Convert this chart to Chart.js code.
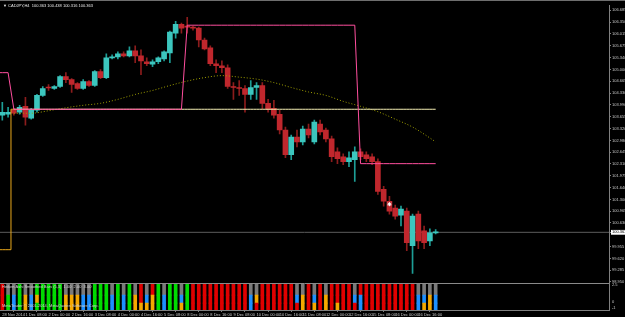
<!DOCTYPE html>
<html>
<head>
<meta charset="utf-8">
<script src="https://cdn.jsdelivr.net/npm/chart.js@4.4.1/dist/chart.umd.min.js"></script>
<style>
  html, body { margin: 0; padding: 0; background: #000; overflow: hidden; }
  #wrap { position: relative; width: 625px; height: 317px; }
  #topline { position: absolute; left: 0; top: 0; width: 625px; height: 1px; background: #6e6e6e; }
</style>
</head>
<body>
<div id="wrap">
  <canvas id="chart" width="625" height="317"></canvas>
  <div id="topline"></div>
</div>
<script>
// CADJPY H4 - الشموع
const opens  = [103.699,103.727,103.840,103.783,103.952,103.614,103.840,104.262,104.488,104.459,
                104.516,104.797,104.713,104.600,104.459,104.657,104.544,104.938,104.769,105.333,
                105.361,105.445,105.389,105.530,105.389,105.220,105.150,105.220,105.305,105.474,
                106.037,106.290,106.234,106.206,106.178,105.840,105.614,105.164,105.107,105.051,
                104.516,104.488,104.459,104.290,104.488,104.544,104.037,103.896,103.727,103.276,
                102.572,103.079,102.938,103.305,102.938,103.445,103.276,103.023,102.657,102.516,
                102.375,102.431,102.657,102.572,102.516,102.375,101.586,101.248,101.051,100.854,
                100.967,99.981,100.882,100.403,100.121,100.347];
const highs  = [104.065,103.924,103.896,103.981,104.206,103.896,104.290,104.516,104.572,104.544,
                104.826,104.910,104.741,104.628,104.713,104.685,104.967,104.995,105.445,105.417,
                105.502,105.502,105.643,105.671,105.558,105.333,105.276,105.361,105.530,106.093,
                106.375,106.319,106.488,106.234,106.206,105.896,105.671,105.276,105.248,105.136,
                104.628,104.685,104.544,104.685,104.628,104.628,104.150,104.121,103.840,103.361,
                103.136,103.276,103.389,103.445,103.558,103.558,103.333,103.107,102.769,102.600,
                102.657,102.797,102.741,102.657,102.600,102.459,101.671,101.389,101.136,101.107,
                101.051,100.882,100.967,100.544,100.459,100.438];
const lows   = [103.558,103.643,103.699,103.727,103.417,103.586,103.783,104.234,104.403,104.431,
                104.488,104.628,104.347,104.431,104.431,104.516,104.516,104.741,104.741,105.305,
                105.305,105.361,105.361,105.192,104.854,105.107,105.079,105.164,105.248,105.192,
                105.896,106.037,106.037,106.121,105.643,105.558,105.107,104.910,104.910,104.459,
                104.150,104.262,103.783,104.150,104.150,103.868,103.783,103.614,103.164,102.488,
                102.431,102.797,102.854,103.051,102.882,103.136,102.938,102.375,102.319,102.290,
                102.234,101.812,102.431,102.375,102.290,101.445,101.107,100.882,100.741,100.544,
                99.840,99.192,99.896,99.896,99.981,100.316];
const closes = [103.783,103.783,103.755,103.924,103.643,103.840,104.262,104.459,104.473,104.516,
                104.797,104.713,104.572,104.459,104.657,104.544,104.938,104.769,105.333,105.361,
                105.445,105.389,105.530,105.389,105.248,105.164,105.220,105.333,105.502,106.065,
                106.290,106.178,106.206,106.178,105.840,105.586,105.164,105.107,105.051,104.516,
                104.488,104.459,104.290,104.488,104.544,104.037,103.868,103.699,103.276,102.572,
                103.079,102.938,103.305,103.136,103.502,103.220,103.023,102.516,102.459,102.375,
                102.488,102.657,102.516,102.459,102.375,101.530,101.248,100.967,100.826,101.023,
                100.065,100.826,100.121,100.065,100.347,100.363];

// الخط الوردي والخط الأصفر (مستويات متدرجة، تبدأ من شمعة قبل حافة الرسم)
const pinkLevels   = [104.910, 103.868, 106.262, 102.319];
const pinkStarts   = [-1, 2, 32, 62];
const yellowLevels = [99.868, 103.868];
const yellowStarts = [-1, 2];

// المتوسط المتحرك
const maBars = [2, 5, 8, 11, 14, 17, 20, 23, 26, 29, 32, 35, 38, 41, 44, 47, 50, 53, 56, 59, 62, 65, 68, 71, 74, 75];
const maVals = [103.755,103.755,103.826,103.910,103.981,104.037,104.150,104.290,104.403,104.544,104.671,104.769,104.826,
                104.783,104.727,104.628,104.488,104.361,104.262,104.093,103.952,103.798,103.586,103.361,103.051,102.938];

const bidPrice = 100.363;
const markBars = [67];
const markVals = [101.164];

// محور الأسعار والوقت
const priceTicks = [106.685,106.350,106.015,105.675,105.340,105.000,104.665,104.330,103.990,103.655,103.320,102.980,
                    102.645,102.310,101.975,101.640,101.300,100.965,100.630,99.955,99.620,99.285,98.950];
const timeLabels = ['28 Nov 2014','1 Dec 08:00','2 Dec 00:00','2 Dec 16:00','3 Dec 08:00','4 Dec 00:00','4 Dec 16:00',
                    '5 Dec 08:00','8 Dec 00:00','8 Dec 16:00','9 Dec 08:00','10 Dec 00:00','10 Dec 16:00','11 Dec 08:00',
                    '12 Dec 00:00','12 Dec 16:00','15 Dec 08:00','16 Dec 00:00','16 Dec 16:00'];
const indTicks = [2.5, 0, -1];

// المؤشر السفلي: ثلاثة صفوف من الألوان لكل شمعة
const rowTop = 'rnngnnggggg' + 'nnnnngggn' + 'gngnrnrgng' + 'gngrrrrrrr' + 'rrrnnrrrrr' + 'rnnrnrnrrr' + 'rnrrrrrrrr' + 'rrnnnn';
const rowMid = 'rgbgoboggg' + 'gooobbgggb' + 'gbgorbogbg' + 'gbgrrrrrrr' + 'rrrborrrrr' + 'rborbrorrr' + 'rbbrrrrrrr' + 'rrbbob';
const rowBot = 'rgbgobgggg' + 'gooobbgggb' + 'gbgoooogbg' + 'gogrrrrrrr' + 'rrrbrrrrrr' + 'rrorororor' + 'rrbrrrrrrr' + 'rrboob';

// === الألوان والأحجام ===
const X_MIN = -0.4, X_MAX = 105;
const Y_MAX = 106.826, Y_MIN = 98.911;
const IND_MIN = -1.3, IND_MAX = 2.8;
const ROW_SPANS = [[-1.3, -0.24], [-0.24, 0.98], [0.98, 2.65]];
const CODE_COLORS = { r: '#e00000', g: '#00dc00', b: '#1e90ff', o: '#f5a800', n: '#7a7a7a' };
const UP_BODY = '#3cc6be', DOWN_BODY = '#c0272d';
const UP_WICK = '#1d9e96', DOWN_WICK = '#8c1c1c';

const isUp = closes.map((c, i) => c >= opens[i]);

function stepSeries(levels, starts) {
  const out = [];
  for (let i = starts[0]; i < opens.length; i++) {
    let k = 0;
    while (k + 1 < starts.length && i >= starts[k + 1]) k++;
    out.push({ x: i, y: levels[k] });
  }
  return out;
}

const wickData = opens.map((_, i) => ({ x: i, y: [lows[i], highs[i]] }));
const bodyData = opens.map((o, i) => ({ x: i, y: [o, closes[i]] }));

function rowDataset(codes, span) {
  const n = Math.min(codes.length, opens.length);
  const data = [], colors = [];
  for (let i = 0; i < n; i++) {
    data.push({ x: i, y: span });
    colors.push(CODE_COLORS[codes[i]] || CODE_COLORS.n);
  }
  return {
    type: 'bar', yAxisID: 'y2', data, backgroundColor: colors,
    barThickness: 3, grouped: false, borderWidth: 0, order: 6
  };
}

const tickFont = { size: 4, family: '"Liberation Sans", sans-serif' };

// === كتابة النصوص فوق الرسم ===
const textPlugin = {
  id: 'mtText',
  afterDraw(chart) {
    const { ctx, scales } = chart;
    ctx.save();
    ctx.font = '4px "Liberation Sans", sans-serif';
    ctx.fillStyle = '#e8e8e8';
    ctx.textBaseline = 'middle';
    ctx.fillText('\u25BC CADJPY,H4  100.363 100.438 100.316 100.363', 3, 6);
    const top = scales.y2.top;
    ctx.fillStyle = '#d0d0d0';
    ctx.fillText('Heiken Ashi Smoothed Bars (5,3)  1.00  2.00  3.00', 2, top + 4);
    ctx.fillText('MetaTrader \u00A9 2001-2014, MetaQuotes Software Corp.', 2, top + 23);
    ctx.restore();
  }
};

const chart = new Chart(document.getElementById('chart'), {
  type: 'bar',
  data: {
    datasets: [
      { type: 'line', data: [{ x: X_MIN, y: bidPrice }, { x: X_MAX, y: bidPrice }],
        borderColor: '#5c5c5c', borderWidth: 1, pointRadius: 0, order: 20 },
      { type: 'bar', data: wickData, backgroundColor: isUp.map(u => u ? UP_WICK : DOWN_WICK),
        barThickness: 1, grouped: false, borderWidth: 0, order: 9 },
      { type: 'bar', data: bodyData, backgroundColor: isUp.map(u => u ? UP_BODY : DOWN_BODY),
        barThickness: 5, minBarLength: 1, grouped: false, borderWidth: 0, order: 8 },
      { type: 'line', data: maBars.map((b, i) => ({ x: b, y: maVals[i] })),
        borderColor: '#a0a000', borderWidth: 1, borderDash: [1, 2], pointRadius: 0,
        cubicInterpolationMode: 'monotone', order: 5 },
      { type: 'line', data: stepSeries(yellowLevels, yellowStarts), stepped: 'middle',
        borderColor: '#e9a81c', borderWidth: 1, pointRadius: 0, order: 4,
        segment: {
          borderColor: c => (c.p0.parsed.y === c.p1.parsed.y && c.p0.parsed.y === yellowLevels[1]) ? '#f6f0b4' : '#e9a81c'
        } },
      { type: 'line', data: stepSeries(pinkLevels, pinkStarts),
        borderColor: '#ff4f9e', borderWidth: 1, pointRadius: 0, order: 3 },
      { type: 'line', data: markBars.map((b, i) => ({ x: b, y: markVals[i] })), showLine: false,
        pointStyle: 'star', pointRadius: 2, borderColor: '#ffffff', borderWidth: 1, order: 1 },
      rowDataset(rowBot, ROW_SPANS[0]),
      rowDataset(rowMid, ROW_SPANS[1]),
      rowDataset(rowTop, ROW_SPANS[2])
    ]
  },
  options: {
    responsive: false,
    animation: false,
    devicePixelRatio: 1,
    layout: { autoPadding: false, padding: { top: 2, left: 0, right: 0, bottom: 0 } },
    plugins: { legend: { display: false }, tooltip: { enabled: false } },
    scales: {
      x: {
        type: 'linear', min: X_MIN, max: X_MAX, offset: false,
        grid: { drawOnChartArea: false, drawTicks: true, tickLength: 2, color: '#808080' },
        border: { color: '#808080' },
        afterBuildTicks: axis => { axis.ticks = timeLabels.map((_, k) => ({ value: k * 4 })); },
        afterFit: axis => {
          axis.height = 7;
          axis.paddingLeft = 0;
          axis.paddingRight = 0;
        },
        ticks: {
          autoSkip: false, maxRotation: 0, align: 'start', padding: 0,
          color: '#c8c8c8', font: tickFont,
          callback: v => timeLabels[Math.round(v / 4)] || ''
        }
      },
      y: {
        position: 'right', stack: 'panes', stackWeight: 281,
        min: Y_MIN, max: Y_MAX,
        grid: { drawOnChartArea: false, drawTicks: true, tickLength: 2, color: '#808080' },
        border: { color: '#808080' },
        afterBuildTicks: axis => { axis.ticks = priceTicks.concat([bidPrice]).map(v => ({ value: v })); },
        afterFit: axis => { axis.width = 16; },
        ticks: {
          autoSkip: false, padding: 1, font: tickFont,
          color: c => c.tick && c.tick.value === bidPrice ? '#000000' : '#c8c8c8',
          showLabelBackdrop: true,
          backdropPadding: { top: 0, bottom: 0, left: 1, right: 1 },
          backdropColor: c => c.tick && c.tick.value === bidPrice ? '#ffffff' : 'rgba(0,0,0,0)',
          callback: v => v.toFixed(3)
        }
      },
      y2: {
        position: 'right', stack: 'panes', stackWeight: 27,
        min: IND_MIN, max: IND_MAX,
        grid: {
          drawOnChartArea: true, drawTicks: false,
          color: c => c.tick && c.tick.value === IND_MAX ? '#8a8a8a' : 'rgba(0,0,0,0)'
        },
        border: { color: '#808080' },
        afterBuildTicks: axis => { axis.ticks = [IND_MAX].concat(indTicks).map(v => ({ value: v })); },
        afterFit: axis => { axis.width = 16; },
        ticks: {
          autoSkip: false, padding: 3, font: tickFont, color: '#c8c8c8',
          callback: v => v === IND_MAX ? '' : String(v)
        }
      }
    }
  },
  plugins: [textPlugin]
});
</script>
</body>
</html>
